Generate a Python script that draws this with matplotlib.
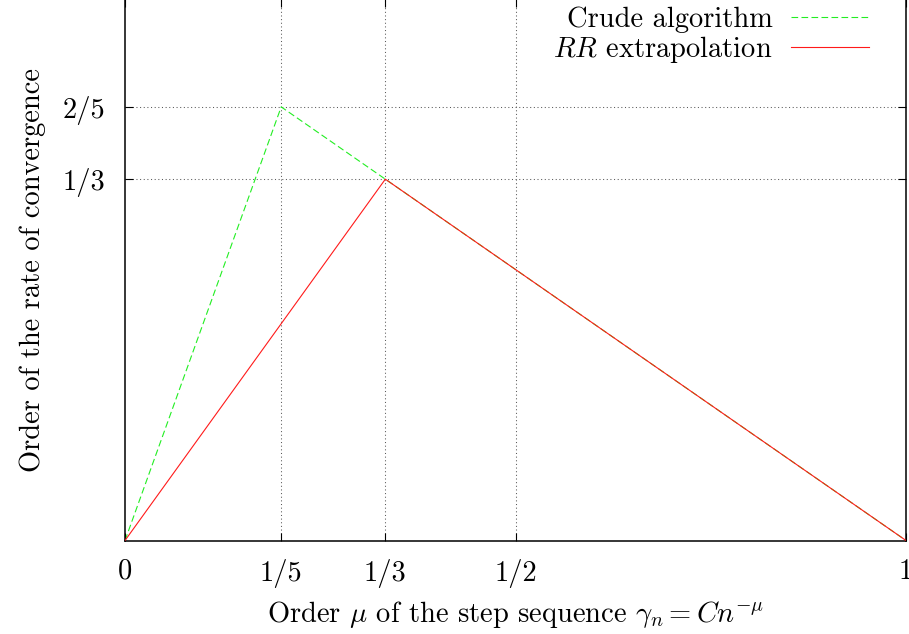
import matplotlib
matplotlib.use('Agg')
import matplotlib.pyplot as plt

plt.rcParams['font.family'] = 'cmr10'
plt.rcParams['mathtext.fontset'] = 'cm'
plt.rcParams['axes.formatter.use_mathtext'] = True
plt.rcParams['font.size'] = 20.5

# orden mu del paso y orden de convergencia
mu_crude = [0, 1/5, 1/3, 1]
rate_crude = [0, 2/5, 1/3, 0]
mu_rr = [0, 1/3, 1]
rate_rr = [0, 1/3, 0]

xticks = [0, 1/5, 1/3, 1/2, 1]
xticklabels = ['0', '1/5', '1/3', '1/2', '1']
yticks = [1/3, 2/5]
yticklabels = ['1/3', '2/5']

fig = plt.figure(figsize=(9.09, 6.34), dpi=100)
ax = fig.add_axes([125/909, 93.5/634, 781/909, 542/634])

# grilla punteada solo en los ticks interiores
for x in xticks[1:-1]:
    ax.axvline(x, color='0.35', lw=0.75, ls=(0, (1, 2.5)), zorder=1)
for y in yticks:
    ax.axhline(y, color='0.35', lw=0.75, ls=(0, (1, 2.5)), zorder=1)

ax.plot(mu_crude, rate_crude, color='#22ee22', lw=0.8, dashes=(6, 3),
        label='Crude algorithm', zorder=2)
ax.plot(mu_rr, rate_rr, color='#ff1a1a', lw=0.8,
        label='$RR$ extrapolation', zorder=3)

ax.set_xlim(0, 1)
ax.set_ylim(0, 0.5)
ax.set_xticks(xticks)
ax.set_xticklabels(xticklabels)
ax.set_yticks(yticks)
ax.set_yticklabels(yticklabels)
ax.tick_params(direction='in', length=6, width=0.8, top=True, right=True)
ax.tick_params(axis='x', pad=13)
ax.tick_params(axis='y', pad=14)
for s in ax.spines.values():
    s.set_linewidth(1.1)

ax.set_xlabel(r'Order $\mu$ of the step sequence $\gamma_n = Cn^{-\mu}$', labelpad=8)
ax.set_ylabel('Order of the rate of convergence', labelpad=12)

ax.legend(loc='upper right', bbox_to_anchor=(0.975, 1.016), frameon=False,
          markerfirst=False, handlelength=2.75, handletextpad=0.65,
          labelspacing=0.01, borderaxespad=0.2)

fig.savefig('out.png', dpi=100)
